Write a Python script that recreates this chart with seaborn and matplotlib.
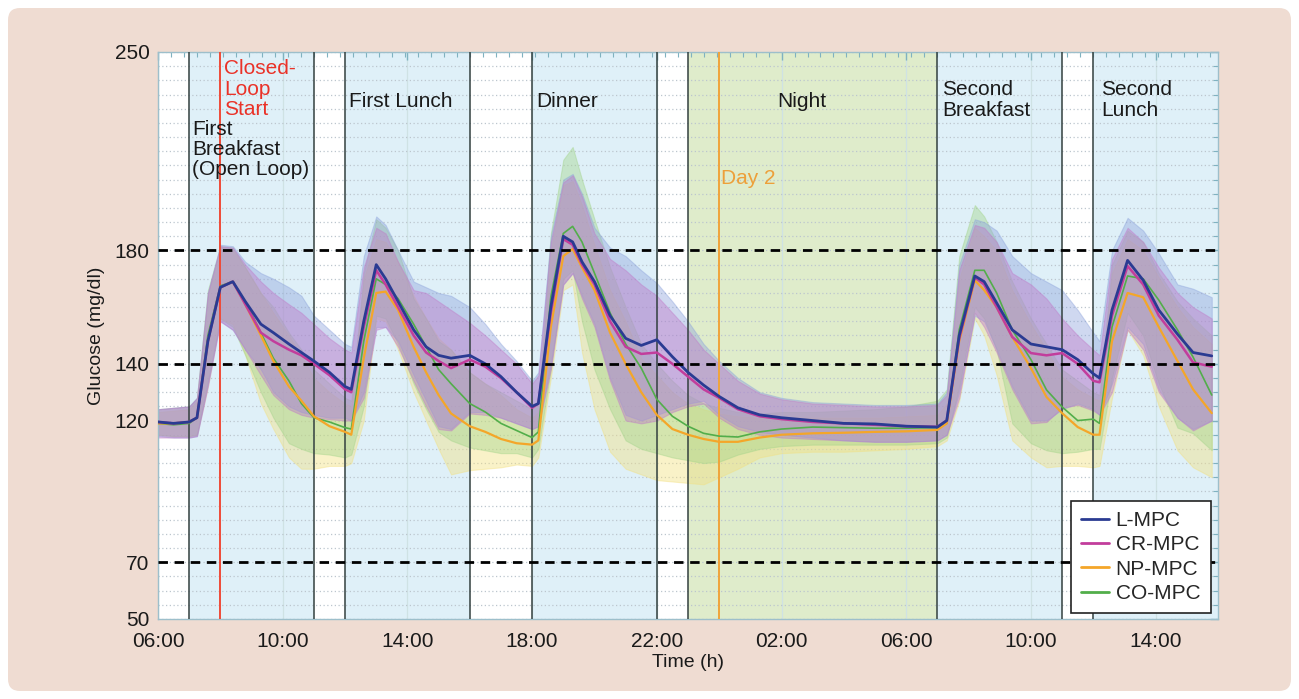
import numpy as np
import pandas as pd
import matplotlib
matplotlib.use("Agg")
import matplotlib.pyplot as plt
import seaborn as sns
from matplotlib.patches import FancyBboxPatch
from matplotlib.ticker import FixedLocator, FuncFormatter

# ---------------- data (hours since 00:00 of day 1) ----------------
T = [6.0, 6.5, 7.0, 7.25, 7.6, 8.0, 8.4, 8.8, 9.3, 9.7,
     10.2, 10.6, 11.0, 11.5, 12.0, 12.2, 12.6, 13.0, 13.3, 13.7,
     14.2, 14.6, 15.0, 15.4, 16.0, 16.5, 17.0, 17.5, 18.0, 18.2,
     18.6, 19.0, 19.3, 19.6, 20.0, 20.5, 21.0, 21.5, 22.0, 22.5,
     23.0, 23.5, 24.0, 24.6, 25.3, 26.0, 27.0, 28.0, 29.0, 30.0,
     31.0, 31.3, 31.7, 32.2, 32.5, 32.9, 33.4, 34.0, 34.5, 35.0,
     35.5, 36.0, 36.2, 36.6, 37.1, 37.6, 38.1, 38.7, 39.2, 39.8]

L_MPC = [119.5, 119, 119.5, 121, 148, 167, 169, 162, 154, 151,
         147, 144, 141, 137, 132, 131, 155, 175, 170, 162,
         152, 146, 143, 142, 143, 140, 135.5, 130, 125, 126,
         160, 185, 183, 176, 169, 157, 149, 146.5, 148.5, 142.5,
         137, 132.5, 128.5, 124.5, 122, 121, 120, 119, 118.8, 118,
         117.7, 120, 150, 171, 169, 161.5, 152, 147, 146, 145,
         141.5, 136.5, 135, 159, 176.5, 169.5, 159, 150.5, 144, 142.8]
L_lo = [114.5, 114, 114, 114.5, 133, 155, 152, 145, 138, 130,
        125, 123, 122, 121, 121, 120, 130, 153, 153, 148,
        136, 127, 118, 117, 123, 123, 121, 119, 117, 118,
        140, 168, 172, 164, 154, 135, 122, 120, 122, 124,
        126, 127, 122, 118, 116, 115, 114, 113, 112.5, 112.5,
        113, 115, 130, 157, 155, 145, 132, 120, 120, 124,
        126, 124, 122, 133, 153, 147, 131, 121, 117, 120]
L_hi = [124, 124.5, 125, 128, 165, 182, 181.5, 176, 172, 170,
        167, 164, 157, 152, 147, 146, 178, 192, 189, 180,
        169, 167, 165, 164, 160, 154, 147, 141, 134, 137,
        185, 205, 207, 200, 188, 181, 178, 173, 168.5, 162,
        155, 147, 141, 135, 130, 128, 126.5, 126, 125.5, 125.5,
        126, 130, 175, 191, 190, 187, 178, 172, 169, 166,
        159, 151, 148, 180, 191.5, 187, 179, 168, 166.5, 163.5]

CR_MPC = [119.5, 119, 119.5, 121, 148, 167, 169, 161, 151, 148,
          145, 143, 140, 136, 131, 130, 153, 173, 168, 160,
          150, 144, 141, 138.5, 141.5, 139, 135, 130, 124.5, 126,
          158, 184, 182, 175, 168, 155, 146, 143.5, 144, 140,
          135.5, 131, 128, 124, 121.5, 120.5, 119.5, 119, 118.5, 118,
          117.8, 120, 149, 170.5, 168, 160, 149.5, 143.8, 143, 143.8,
          140, 134, 133.5, 157, 174.5, 168, 157, 148.5, 140.5, 139]
CR_lo = [114, 114, 114, 114.5, 132, 155, 152, 145, 136, 129,
         124, 122, 121, 120.5, 120, 120, 128, 152, 153, 146,
         134, 125, 117, 116.5, 122.5, 122, 121, 119, 117, 118,
         138, 168, 172, 163, 153, 134, 120, 119, 120, 123,
         125, 126, 121, 117, 115, 114, 113.5, 113, 112.5, 112.5,
         113, 115, 128, 158, 153, 144, 131, 119, 119.5, 124.5,
         125.5, 123.5, 122, 130, 152, 145, 130, 121, 116.5, 120]
CR_hi = [124, 124.5, 125, 128, 165, 181.5, 181, 175, 169, 165,
         161, 158, 154, 149, 145, 144, 174, 188, 186, 176,
         166, 165, 162, 159, 154.5, 150, 145, 140, 133, 136,
         183, 204, 206.5, 199, 186, 177, 173, 168, 164, 158,
         152, 145, 140, 134, 129.5, 127.5, 126, 125.5, 125, 125,
         125.5, 129, 173, 189, 188, 183, 172, 168, 163, 156,
         150, 145, 143, 177, 188, 183, 174, 165, 160, 156]

NP_MPC = [119, 119, 119.5, 121, 148, 167, 169, 161, 150, 141,
          132, 127, 121.5, 118, 116, 115, 142, 165, 165.5, 159,
          146, 137, 129, 122.5, 118, 116, 113.5, 112, 111.5, 113,
          153, 178, 180.5, 174, 166, 151, 140, 130, 122, 117,
          115, 113.5, 112.5, 112.5, 114, 115, 115.5, 115.7, 116, 116.2,
          116.7, 119, 148, 169.5, 166, 160, 149.5, 138.5, 128.3, 122.6,
          117.7, 115, 115, 148, 165, 163.5, 153, 141, 131, 122.6]
NP_lo = [115, 114.5, 114.5, 115, 132, 156, 154, 143, 126, 117,
         107, 103, 103, 104, 104, 105, 120, 156, 155, 145,
         130, 120, 110, 101, 102.5, 103, 103.5, 104.5, 104, 107,
         135, 166, 168, 144, 124, 109, 103, 101, 99, 98.5,
         98, 97.5, 100, 103, 107, 108.5, 109, 109, 109.5, 110,
         111, 113, 127, 156, 150, 136, 113, 107, 103.5, 104,
         104, 103.5, 104, 128, 152, 143, 125, 109.5, 103.5, 100]
NP_hi = [123, 123.5, 124, 127, 164, 181, 180, 174, 165, 158,
         150, 143, 135, 130, 126, 125, 170, 184, 183, 176,
         164, 156, 149, 145, 137, 133, 129, 124, 121, 123,
         180, 203, 204.5, 196, 182, 166, 155, 142, 136, 130,
         126, 124, 122.5, 121.5, 121, 121, 121, 121, 121, 121.5,
         122, 126, 170, 188, 185, 180, 166, 154, 145, 135.5,
         131, 128, 127, 172, 184, 180, 170.5, 160, 153, 147]

CO_MPC = [119, 118.5, 119, 121, 150, 167.5, 169, 162, 151, 142,
          134, 126, 121, 119.5, 117.5, 117, 148, 170, 168, 163,
          154, 146, 138, 133, 126, 123, 119, 116.5, 114, 116,
          163.6, 186, 188.5, 183, 172, 158, 147, 138.5, 127.5, 121.5,
          118, 115.5, 114.5, 114.2, 116, 117, 117.7, 117.5, 117.3, 117.3,
          117.5, 119, 152, 173, 173, 165, 152, 141.5, 130.8, 124.8,
          120, 120.5, 119, 153, 171, 170, 162.5, 152, 142.4, 129]
CO_lo = [115, 114.5, 114.5, 115, 134, 156, 153, 143, 130, 121,
         112, 110, 108.5, 108, 107, 108, 125, 157, 156, 147,
         133, 124, 116, 113, 110.5, 109.5, 108.5, 108.5, 107, 110,
         138, 170, 173, 155, 138, 124, 113, 110, 108.5, 107,
         106, 105, 105.5, 108, 110, 111, 111.5, 111.5, 111.5, 111.5,
         112, 114, 132, 160, 156, 145, 119, 112, 109.5, 108.5,
         109, 110, 110, 135, 158, 150, 133, 117.5, 115.5, 109.5]
CO_hi = [124, 124.5, 125, 128, 166, 181.5, 181, 174, 165, 160,
         151, 145, 138, 133, 128, 127, 172, 191, 188, 180,
         163, 156, 148, 145, 137, 133, 130, 127, 124, 126,
         186, 212, 216.5, 205, 191, 174, 160, 147, 140, 134,
         129, 126, 124.5, 123, 122.5, 123, 123, 123.5, 124, 125,
         127, 131, 178, 196, 192, 183, 169, 156, 147, 138,
         134, 130, 129, 175, 187, 183, 172, 162, 156, 150]

CONTROLLERS = ["L-MPC", "CR-MPC", "NP-MPC", "CO-MPC"]
MEAL_START = [7, 12, 18, 31, 36]
MEAL_END = [11, 16, 22, 35, 40]
NIGHT = [23, 31]
EVENT_LINES = [7, 11, 12, 16, 18, 22, 23, 31, 35, 36]
CLOSED_LOOP_START = 8
DAY2 = 24
THRESHOLDS = [180, 140, 70]
X_TICKS = [6, 10, 14, 18, 22, 26, 30, 34, 38]
Y_TICKS = [50, 70, 120, 140, 180, 250]

# ---------------- styling ----------------
sns.set_theme(style="white")
plt.rcParams['font.family'] = ['Liberation Sans', 'DejaVu Sans']

line_colors = {"L-MPC": "#2a3b92", "CR-MPC": "#c23d9c",
               "NP-MPC": "#f4a629", "CO-MPC": "#52ae4a"}
band_colors = {"L-MPC": "#8ea4dc", "CR-MPC": "#c07ac8",
               "NP-MPC": "#f3e07e", "CO-MPC": "#a3d48a"}
line_widths = {"L-MPC": 2.0, "CR-MPC": 1.8, "NP-MPC": 1.6, "CO-MPC": 1.2}

fig = plt.figure(figsize=(12.99, 6.99), dpi=100, facecolor="white")
bg = FancyBboxPatch((0.08, 0.08), 12.83, 6.83,
                    boxstyle="round,pad=0,rounding_size=0.12",
                    transform=fig.dpi_scale_trans, facecolor="#efdcd2",
                    edgecolor="none", zorder=-10)
fig.patches.append(bg)

ax = fig.add_axes([0.12163, 0.11445, 0.81601, 0.81116])
ax.set_facecolor("white")

# shaded periods
for s, e in zip(MEAL_START, MEAL_END):
    ax.axvspan(s, e, color="#dff0f8", zorder=0.2, lw=0)
ax.axvspan(NIGHT[0], NIGHT[1], color="#dfeccb", zorder=0.2, lw=0)

# grid
ax.set_axisbelow(True)
ax.yaxis.set_minor_locator(FixedLocator(np.arange(50, 251, 5)))
ax.xaxis.set_minor_locator(FixedLocator(np.arange(6, 40.01, 5 / 12)))
ax.grid(which="both", axis="y", linestyle=(0, (1, 2)), color="#bcc6ce", lw=0.9)
ax.grid(which="major", axis="x", linestyle="-", color="#cfe2e4", lw=0.9)

# data frame
series = {
    "L-MPC": (L_MPC, L_lo, L_hi),
    "CR-MPC": (CR_MPC, CR_lo, CR_hi),
    "NP-MPC": (NP_MPC, NP_lo, NP_hi),
    "CO-MPC": (CO_MPC, CO_lo, CO_hi),
}
frames = []
for name, (m, lo, hi) in series.items():
    frames.append(pd.DataFrame({"Time": T, "Glucose": m, "lo": lo, "hi": hi,
                                "Controller": name}))
df = pd.concat(frames, ignore_index=True)

# bands
for name in ["NP-MPC", "CO-MPC", "L-MPC", "CR-MPC"]:
    d = df[df.Controller == name]
    ax.fill_between(d.Time, d.lo, d.hi, color=band_colors[name], alpha=0.42,
                    lw=0.8, edgecolor=band_colors[name], zorder=1)

# event lines
for x in EVENT_LINES:
    ax.axvline(x, color="#33403f", lw=1.1, zorder=3)
ax.axvline(CLOSED_LOOP_START, color="#ef4a37", lw=1.4, zorder=3)
ax.axvline(DAY2, color="#f0a43a", lw=1.4, zorder=3)

# means
for name in ["CO-MPC", "NP-MPC", "CR-MPC", "L-MPC"]:
    d = df[df.Controller == name]
    sns.lineplot(x=d.Time, y=d.Glucose, color=line_colors[name],
                 lw=line_widths[name], ax=ax, zorder=4, legend=False)

# thresholds
for y in THRESHOLDS:
    ax.axhline(y, color="black", lw=2.0, linestyle=(0, (3.4, 2.4)), zorder=5)

# annotations
fs = 15
ls = 1.08
ax.text(8.12, 247.4, "Closed-\nLoop\nStart", color="#ea3228", fontsize=fs,
        va="top", ha="left", linespacing=ls, zorder=6)
ax.text(7.1, 226.0, "First\nBreakfast\n(Open Loop)", color="#1a1a1a", fontsize=fs,
        va="top", ha="left", linespacing=ls, zorder=6)
ax.text(12.12, 236.0, "First Lunch", color="#1a1a1a", fontsize=fs,
        va="top", ha="left", zorder=6)
ax.text(18.12, 236.0, "Dinner", color="#1a1a1a", fontsize=fs,
        va="top", ha="left", zorder=6)
ax.text(25.85, 236.0, "Night", color="#1a1a1a", fontsize=fs,
        va="top", ha="left", zorder=6)
ax.text(24.05, 208.8, "Day 2", color="#eda03a", fontsize=fs,
        va="top", ha="left", zorder=6)
ax.text(31.15, 240.0, "Second\nBreakfast", color="#1a1a1a", fontsize=fs,
        va="top", ha="left", linespacing=ls, zorder=6)
ax.text(36.25, 240.0, "Second\nLunch", color="#1a1a1a", fontsize=fs,
        va="top", ha="left", linespacing=ls, zorder=6)

# axes
ax.set_xlim(6, 40)
ax.set_ylim(50, 250)
ax.set_xticks(X_TICKS)
ax.xaxis.set_major_formatter(FuncFormatter(lambda v, p: f"{int(v) % 24:02d}:00"))
ax.set_yticks(Y_TICKS)
ax.tick_params(axis="both", which="both", direction="in", top=True, right=True,
               color="#7fb2c0", labelsize=15, labelcolor="#1a1a1a")
ax.tick_params(which="major", length=6, width=1)
ax.tick_params(which="minor", length=3.5, width=0.8)
ax.tick_params(axis="x", pad=9.5)
ax.tick_params(axis="y", pad=6)
for sp in ax.spines.values():
    sp.set_color("#9dbfcb")
    sp.set_linewidth(1.0)
ax.set_xlabel("Time (h)", fontsize=14, color="#1a1a1a", labelpad=2)
ax.set_ylabel("Glucose (mg/dl)", fontsize=14, color="#1a1a1a", labelpad=7)

# legend
handles = [plt.Line2D([], [], color=line_colors[n], lw=2.0) for n in CONTROLLERS]
leg = ax.legend(handles, CONTROLLERS, loc="lower right", bbox_to_anchor=(0.993, 0.01),
                borderaxespad=0, fontsize=15, frameon=True, fancybox=False,
                handlelength=1.35, handletextpad=0.3, labelspacing=0.25,
                borderpad=0.5)
leg.get_frame().set_edgecolor("#222222")
leg.get_frame().set_linewidth(1.2)
leg.get_frame().set_facecolor("white")
leg.get_frame().set_alpha(1)
leg.set_zorder(10)

fig.savefig("out.png", dpi=100, facecolor=fig.get_facecolor())
